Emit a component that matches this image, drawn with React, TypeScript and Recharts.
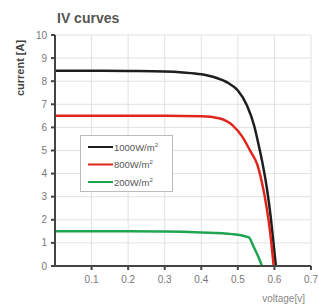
import React from 'react';
import { LineChart, Line, XAxis, YAxis, CartesianGrid, Customized } from 'recharts';

const series1000 = [
  { v: 0, i: 8.45 }, { v: 0.1, i: 8.45 }, { v: 0.2, i: 8.44 }, { v: 0.3, i: 8.42 },
  { v: 0.35, i: 8.38 }, { v: 0.4, i: 8.3 }, { v: 0.44, i: 8.15 }, { v: 0.475, i: 7.91 },
  { v: 0.5, i: 7.6 }, { v: 0.525, i: 6.95 }, { v: 0.545, i: 6.05 }, { v: 0.556, i: 5.3 },
  { v: 0.568, i: 4.4 }, { v: 0.58, i: 3.3 }, { v: 0.59, i: 2.1 }, { v: 0.598, i: 0.9 },
  { v: 0.604, i: 0 },
];
const series800 = [
  { v: 0, i: 6.5 }, { v: 0.1, i: 6.5 }, { v: 0.2, i: 6.5 }, { v: 0.3, i: 6.5 },
  { v: 0.4, i: 6.48 }, { v: 0.448, i: 6.4 }, { v: 0.485, i: 6.1 }, { v: 0.512, i: 5.6 },
  { v: 0.535, i: 4.95 }, { v: 0.553, i: 4.4 }, { v: 0.566, i: 3.6 }, { v: 0.578, i: 2.6 },
  { v: 0.588, i: 1.5 }, { v: 0.598, i: 0 },
];
const series200 = [
  { v: 0, i: 1.5 }, { v: 0.1, i: 1.5 }, { v: 0.2, i: 1.5 }, { v: 0.3, i: 1.49 },
  { v: 0.4, i: 1.45 }, { v: 0.485, i: 1.38 }, { v: 0.53, i: 1.24 }, { v: 0.543, i: 0.84 },
  { v: 0.556, i: 0.4 }, { v: 0.566, i: 0 },
];
const xTicks = [0.1, 0.2, 0.3, 0.4, 0.5, 0.6, 0.7];
const yTicks = [0, 1, 2, 3, 4, 5, 6, 7, 8, 9, 10];
const legendItems = [
  { label: '1000W/m', color: '#1e1e1e' },
  { label: '800W/m', color: '#e0261c' },
  { label: '200W/m', color: '#1fa552' },
];

const FONT = 'Arial, Liberation Sans, sans-serif';

const Overlay = () => (
  <g fontFamily={FONT}>
    <text x={57} y={23} fontSize={14} fontWeight="bold" fill="#555">IV curves</text>
    <text x={0} y={0} transform="translate(24,68) rotate(-90)" textAnchor="middle" fontSize={11} fontWeight="bold" fill="#444">current [A]</text>
    <text x={305} y={302} textAnchor="end" fontSize={10} fill="#888">voltage[v]</text>
    <rect x={80.5} y={135.5} width={92} height={56} fill="#fff" stroke="#bbb" strokeWidth={1} />
    {legendItems.map((it, k) => (
      <g key={it.label}>
        <line x1={88} x2={113} y1={147 + k * 17.5} y2={147 + k * 17.5} stroke={it.color} strokeWidth={2} />
        <text x={114} y={150.5 + k * 17.5} fontSize={9.5} fill="#555">
          {it.label}
          <tspan fontSize={6} dy={-4}>2</tspan>
        </text>
      </g>
    ))}
  </g>
);

export default function App() {
  return (
    <div style={{ position: 'absolute', left: 0, top: 0, background: '#fff' }}>
      <LineChart width={318} height={308} margin={{ top: 35, right: 7, left: 25, bottom: 12 }}>
        <CartesianGrid stroke="#e2e2e2" strokeWidth={1} />
        <XAxis type="number" dataKey="v" domain={[0, 0.7]} ticks={xTicks} allowDuplicatedCategory={false}
          stroke="#444" strokeWidth={2} tick={{ fontSize: 10, fill: '#777', fontFamily: FONT }}
          tickSize={4} tickMargin={6} height={30} />
        <YAxis type="number" domain={[0, 10]} ticks={yTicks} stroke="#444" strokeWidth={2}
          tick={{ fontSize: 10, fill: '#777', fontFamily: FONT }} tickSize={4} tickMargin={4} width={30} />
        <Line data={series1000} dataKey="i" type="monotone" stroke="#1e1e1e" strokeWidth={2.5} dot={false} isAnimationActive={false} name="1000W/m2" />
        <Line data={series800} dataKey="i" type="monotone" stroke="#e0261c" strokeWidth={2.5} dot={false} isAnimationActive={false} name="800W/m2" />
        <Line data={series200} dataKey="i" type="monotone" stroke="#1fa552" strokeWidth={2.5} dot={false} isAnimationActive={false} name="200W/m2" />
        <Customized component={Overlay} />
      </LineChart>
    </div>
  );
}
